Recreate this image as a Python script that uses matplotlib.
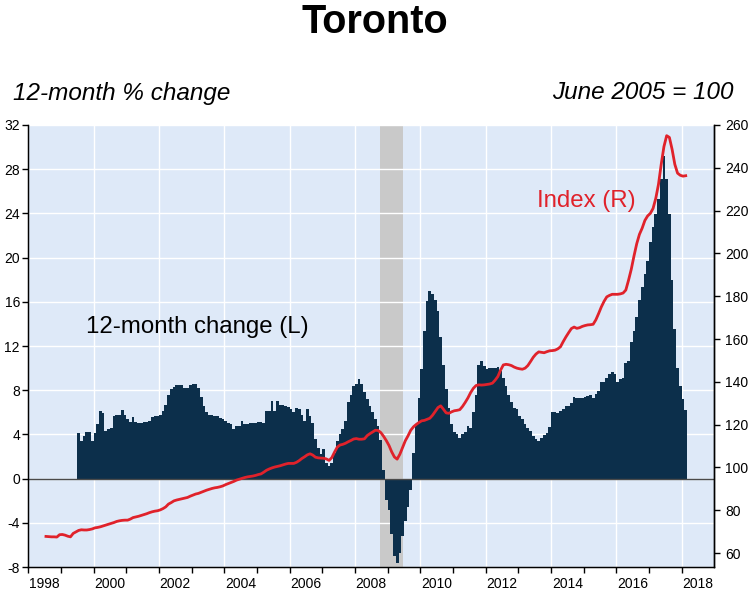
# Toronto house prices: 12-month % change (bars, left) and index (line, right)

import numpy as np
import pandas as pd
import matplotlib
matplotlib.use("Agg")
import matplotlib.pyplot as plt
from matplotlib import font_manager

# ------------------------------
# Data
# ------------------------------

# 12-month % change, monthly, Jul 1999 - Feb 2018
change_1999 = [4.1, 3.4, 3.9, 4.2, 4.2, 3.4]
change_2000 = [4.1, 4.9, 6.1, 5.9, 4.3, 4.45, 4.6, 5.7, 5.8, 5.8, 6.2, 5.8]
change_2001 = [5.4, 5.1, 5.6, 5.1, 5.05, 5.05, 5.1, 5.1, 5.2, 5.6, 5.65, 5.7]
change_2002 = [5.8, 6.1, 6.7, 7.6, 8.1, 8.3, 8.45, 8.45, 8.45, 8.2, 8.2, 8.45]
change_2003 = [8.6, 8.6, 8.2, 7.4, 6.6, 6.0, 5.8, 5.8, 5.7, 5.7, 5.5, 5.4]
change_2004 = [5.2, 5.07, 4.9, 4.5, 4.8, 4.8, 5.2, 4.9, 4.9, 5.0, 5.07, 5.0]
change_2005 = [5.1, 5.1, 5.07, 6.1, 6.1, 7.0, 6.1, 7.0, 6.7, 6.7, 6.6, 6.5]
change_2006 = [6.3, 6.0, 6.4, 6.3, 5.8, 5.2, 6.3, 5.7, 5.07, 3.6, 2.8, 2.2]
change_2007 = [2.65, 1.45, 1.15, 1.45, 2.35, 3.4, 4.0, 4.5, 5.2, 6.9, 7.6, 8.4]
change_2008 = [8.6, 9.05, 8.6, 7.8, 7.2, 6.6, 6.0, 5.4, 4.8, 3.5, 0.8, -1.9]
change_2009 = [-2.8, -5.0, -7.0, -7.6, -6.7, -5.2, -3.8, -2.6, -1.0, 2.3, 4.9, 7.3]
change_2010 = [9.9, 13.4, 16.1, 17.0, 16.7, 16.2, 15.2, 12.8, 10.3, 8.1, 6.4, 4.9]
change_2011 = [4.2, 4.0, 3.7, 4.0, 4.2, 4.8, 4.6, 6.0, 7.6, 10.3, 10.6, 10.2]
change_2012 = [9.9, 10.0, 10.0, 10.05, 10.1, 9.7, 9.1, 8.4, 7.6, 6.9, 6.4, 6.3]
change_2013 = [5.7, 5.4, 4.9, 4.6, 4.3, 3.9, 3.6, 3.4, 3.7, 3.95, 4.1, 4.7]
change_2014 = [6.0, 6.0, 5.9, 6.1, 6.3, 6.6, 6.6, 6.8, 7.4, 7.3, 7.3, 7.3]
change_2015 = [7.4, 7.5, 7.6, 7.3, 7.7, 7.9, 8.7, 8.7, 9.1, 9.5, 9.65, 9.5]
change_2016 = [8.7, 9.0, 9.1, 10.5, 10.6, 12.4, 13.4, 14.6, 16.2, 17.3, 18.5, 19.7]
change_2017 = [21.4, 22.8, 23.9, 25.3, 27.1, 29.2, 27.1, 23.9, 18.0, 13.5, 10.0, 8.4]
change_2018 = [7.2, 6.2]

# House price index (June 2005 = 100), monthly, Jul 1998 - Feb 2018
index_1998 = [67.8, 67.7, 67.6, 67.6, 67.5, 68.6]
index_1999 = [68.7, 68.4, 67.9, 67.6, 69.2, 69.9, 70.6, 70.9, 70.8, 70.8, 71.0, 71.3]
index_2000 = [71.8, 72.0, 72.3, 72.7, 73.1, 73.5, 73.9, 74.3, 74.8, 75.1, 75.3, 75.4]
index_2001 = [75.4, 75.9, 76.6, 76.9, 77.2, 77.6, 78.0, 78.4, 78.9, 79.3, 79.6, 79.8]
index_2002 = [80.2, 80.8, 81.6, 82.9, 83.6, 84.4, 84.8, 85.1, 85.4, 85.7, 86.0, 86.6]
index_2003 = [87.1, 87.6, 87.9, 88.4, 88.9, 89.4, 89.8, 90.2, 90.5, 90.7, 91.0, 91.4]
index_2004 = [92.0, 92.5, 93.0, 93.5, 94.1, 94.5, 94.9, 95.3, 95.6, 95.8, 96.0, 96.3]
index_2005 = [96.7, 97.0, 97.8, 98.7, 99.3, 99.8, 100.2, 100.5, 100.8, 101.2, 101.6, 101.9]
index_2006 = [101.9, 101.9, 102.4, 103.2, 104.2, 105.0, 105.9, 106.4, 105.8, 104.8, 104.5, 104.4]
index_2007 = [104.3, 104.0, 103.3, 104.6, 107.2, 109.5, 110.5, 110.8, 111.3, 112.0, 112.6, 113.3]
index_2008 = [113.5, 113.2, 113.2, 113.4, 114.9, 115.8, 116.6, 117.4, 117.3, 116.3, 114.6, 112.6]
index_2009 = [110.3, 107.3, 104.9, 103.9, 106.2, 109.3, 112.5, 114.8, 117.4, 119.0, 120.1, 121.0]
index_2010 = [121.8, 122.0, 122.5, 123.0, 124.4, 126.2, 128.0, 128.8, 127.2, 125.5, 125.3, 126.0]
index_2011 = [126.5, 126.7, 127.0, 128.5, 130.4, 132.5, 135.0, 137.0, 138.3, 138.6, 138.5, 138.6]
index_2012 = [138.8, 139.0, 139.4, 140.8, 142.5, 145.5, 147.9, 148.2, 148.0, 147.6, 146.9, 146.4]
index_2013 = [146.1, 145.9, 146.4, 147.6, 149.5, 151.5, 153.0, 154.0, 153.8, 153.6, 154.1, 154.5]
index_2014 = [154.6, 154.8, 155.4, 156.4, 158.8, 161.0, 163.0, 164.9, 165.6, 165.0, 165.3, 165.9]
index_2015 = [166.3, 166.6, 166.7, 166.9, 169.0, 171.9, 175.0, 177.6, 179.7, 180.4, 180.9, 180.9]
index_2016 = [180.9, 181.1, 181.5, 182.9, 187.5, 192.6, 198.8, 204.5, 208.9, 211.8, 215.4, 217.5]
index_2017 = [218.7, 221.0, 225.7, 232.3, 241.6, 249.9, 255.0, 254.2, 248.6, 241.6, 237.5, 236.5]
index_2018 = [236.1, 236.3]

change_start = "1999-07"
index_start = "1998-07"

# Recession shading (fractional years)
recession = (2008.77, 2009.46)

change = (change_1999 + change_2000 + change_2001 + change_2002 + change_2003
          + change_2004 + change_2005 + change_2006 + change_2007 + change_2008
          + change_2009 + change_2010 + change_2011 + change_2012 + change_2013
          + change_2014 + change_2015 + change_2016 + change_2017 + change_2018)
index = (index_1998 + index_1999 + index_2000 + index_2001 + index_2002
         + index_2003 + index_2004 + index_2005 + index_2006 + index_2007
         + index_2008 + index_2009 + index_2010 + index_2011 + index_2012
         + index_2013 + index_2014 + index_2015 + index_2016 + index_2017
         + index_2018)


def frac_year(dates):
    return np.asarray(dates.year + (dates.month - 1) / 12.0, dtype=float)


# month edges for the bars (one more edge than values)
change_edges = frac_year(pd.date_range(change_start, periods=len(change) + 1, freq="MS"))
index_dates = pd.date_range(index_start, periods=len(index), freq="MS")
index_x = frac_year(index_dates) + 1 / 24.0   # line plotted mid-month

# ------------------------------
# Fonts
# ------------------------------


def has_font(name):
    try:
        font_manager.findfont(font_manager.FontProperties(family=name),
                              fallback_to_default=False)
        return True
    except ValueError:
        return False


plt.rcParams["font.family"] = ["Liberation Sans", "DejaVu Sans"]
plt.rcParams["axes.unicode_minus"] = False
if has_font("Liberation Sans Narrow"):
    label_font = dict(family=["Liberation Sans Narrow", "Liberation Sans"], size=21.5)
else:
    label_font = dict(family=["Liberation Sans", "DejaVu Sans"], size=17.3)

navy = "#0c2f4b"
red = "#e0222b"
bg = "#dee9f8"

# ------------------------------
# Figure
# ------------------------------
fig = plt.figure(figsize=(7.5, 5.98), dpi=100)
ax = fig.add_axes([0.0377, 0.0518, 0.9147, 0.7392])
ax.set_facecolor(bg)

ax.axvspan(recession[0], recession[1], color="#c9c9c9", lw=0, zorder=0.5)

ax.set_xlim(1998, 2019)
ax.set_ylim(-8, 32)
ax.set_yticks(np.arange(-8, 33, 4))
ax.grid(axis="y", color="white", lw=1, zorder=1)
for yr in range(2000, 2019, 2):
    ax.axvline(yr, color="white", lw=1, zorder=1)

# monthly bars drawn as a filled step so neighbouring months touch
ax.stairs(change, change_edges, baseline=0, fill=True, color=navy, zorder=2)
ax.axhline(0, color="#4a4a4a", lw=1, zorder=2.5)

# x ticks: a mark at each year, labels centred in even years
ax.set_xticks(np.arange(1998, 2019, 1))
ax.set_xticklabels([])
ax.set_xticks(np.arange(1998.5, 2019, 2), minor=True)
ax.set_xticklabels([str(y) for y in range(1998, 2019, 2)], minor=True)
ax.tick_params(axis="x", which="major", direction="out", length=4, width=1)
ax.tick_params(axis="x", which="minor", length=0, pad=7, labelsize=10)
ax.tick_params(axis="y", direction="out", length=4, width=1, pad=2, labelsize=10)

ax.spines["top"].set_visible(False)
for s in ["left", "bottom", "right"]:
    ax.spines[s].set_linewidth(1)
    ax.spines[s].set_color("black")

# right axis: index
ax2 = ax.twinx()
ax2.plot(index_x, index, color=red, lw=2.0, zorder=3)
ax2.set_ylim(53.5, 260)
ax2.set_yticks(np.arange(60, 261, 20))
ax2.tick_params(axis="y", direction="out", length=4, width=1, pad=4, labelsize=10)
ax2.spines["top"].set_visible(False)
ax2.spines["right"].set_linewidth(1)

# ------------------------------
# Text
# ------------------------------
fig.text(0.4993, 0.9448, "Toronto", ha="center", va="baseline",
         fontsize=28.5, fontweight="bold")
fig.text(0.0173, 0.8328, "12-month % change", ha="left", va="baseline",
         fontsize=17.5, style="italic")
fig.text(0.9787, 0.8344, "June 2005 = 100", ha="right", va="baseline",
         fontsize=17.5, style="italic")
fig.text(0.1147, 0.4426, "12-month change (L)", ha="left", va="baseline",
         color="black", **label_font)
fig.text(0.716, 0.6543, "Index (R)", ha="left", va="baseline",
         color=red, **label_font)

fig.savefig("out.png", dpi=100)
